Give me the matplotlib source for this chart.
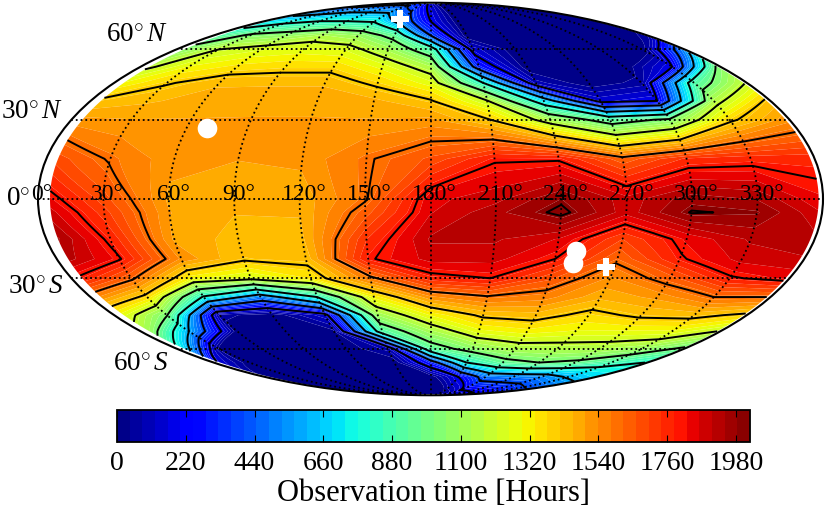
import numpy as np
import matplotlib
matplotlib.use("Agg")
import matplotlib.pyplot as plt

plt.rcParams['font.family'] = ['Liberation Serif', 'DejaVu Serif']
plt.rcParams['mathtext.fontset'] = 'custom'
plt.rcParams['mathtext.rm'] = 'Liberation Serif'
plt.rcParams['mathtext.it'] = 'Liberation Serif:italic'

lons = [5.5, 30, 60, 90, 120, 150, 180, 210, 240, 270, 300, 330, 358]
lats = [-88, -75, -67, -60, -52, -45, -37.5, -30, -22.5, -15, -5, 0, 15, 30, 37.5, 45, 52, 60, 67, 75, 88]

# hours per latitude row
m88 = [5, 5, 5, 5, 5, 5, 5, 5, 80, 120, 160, 200, 240]
m75 = [5, 5, 5, 5, 5, 5, 5, 200, 480, 500, 520, 620, 700]
m67 = [150, 5, 5, 5, 5, 5, 300, 800, 950, 1000, 970, 880, 800]
m60 = [700, 30, 5, 5, 5, 100, 930, 1060, 1140, 1150, 1140, 1090, 980]
m52 = [1100, 600, 5, 5, 30, 900, 1120, 1280, 1320, 1290, 1290, 1290, 1200]
m45 = [1270, 1010, 60, 5, 150, 1100, 1300, 1420, 1440, 1370, 1420, 1430, 1380]
m37 = [1530, 1370, 780, 500, 800, 1310, 1530, 1590, 1560, 1470, 1510, 1600, 1600]
m30 = [1780, 1620, 1310, 1240, 1340, 1580, 1770, 1800, 1670, 1530, 1640, 1790, 1830]
m22 = [1920, 1810, 1530, 1415, 1430, 1790, 1880, 1880, 1800, 1620, 1790, 1880, 1900]
m15 = [1950, 1780, 1490, 1440, 1450, 1740, 1910, 1910, 1860, 1700, 1830, 1910, 1920]
m05 = [1880, 1720, 1500, 1460, 1460, 1640, 1860, 1930, 2020, 1880, 2005, 1990, 1870]
p00 = [1830, 1680, 1490, 1470, 1470, 1590, 1850, 1890, 1985, 1880, 1970, 1940, 1830]
p15 = [1680, 1590, 1510, 1500, 1510, 1590, 1670, 1790, 1790, 1630, 1750, 1770, 1770]
p30 = [1510, 1500, 1500, 1500, 1500, 1500, 1510, 1400, 1130, 920, 1030, 1380, 1520]
p37 = [1420, 1450, 1480, 1490, 1490, 1470, 1410, 1210, 700, 150, 200, 1150, 1420]
p45 = [1300, 1390, 1450, 1450, 1450, 1380, 1270, 800, 100, 5, 60, 900, 1190]
p52 = [1180, 1300, 1350, 1370, 1370, 1280, 1140, 300, 5, 5, 5, 200, 1030]
p60 = [1050, 1200, 1250, 1270, 1250, 1120, 900, 150, 5, 5, 5, 5, 500]
p67 = [900, 1030, 1070, 1140, 1090, 950, 400, 5, 5, 5, 5, 5, 50]
p75 = [700, 750, 800, 800, 780, 500, 200, 5, 5, 5, 5, 5, 5]
p88 = [300, 300, 350, 350, 350, 300, 150, 5, 5, 5, 5, 5, 5]

# spots without data
blob_lon = [70, 249, 249]
blob_lat = [26.7, -19.5, -24]
plus_lon = [145, 265.6]
plus_lat = [76.5, -25.5]

cbar_ticks = [0, 220, 440, 660, 880, 1100, 1320, 1540, 1760, 1980]
line_levels = [200, 400, 600, 800, 1000, 1200, 1400, 1600, 1800, 2000]
lon_ticks = [0, 30, 60, 90, 120, 150, 180, 210, 240, 270, 300, 330]
lon_labels = ['0°', '30°', '60°', '90°', '120°', '150°', '180°', '210°', '240°', '270°', '300°', '330°']
lat_labels = [r'$60^{\circ}\,S$', r'$30^{\circ}\,S$', r'$0^{\circ}$', r'$30^{\circ}\,N$', r'$60^{\circ}\,N$']

hours = np.array([m88, m75, m67, m60, m52, m45, m37, m30, m22, m15, m05, p00,
                  p15, p30, p37, p45, p52, p60, p67, p75, p88])
x = np.radians(np.array(lons) - 180)
y = np.radians(lats)

fig = plt.figure(figsize=(8.3, 5.1), dpi=100)
ax = fig.add_axes([38/830, 1 - 397/510, 785/830, 394/510], projection='mollweide')

levels = np.linspace(0, 2025, 51)
cf = ax.contourf(x, y, hours, levels=levels, cmap='jet', antialiased=True)
ax.contour(x, y, hours, levels=line_levels, colors='k', linewidths=1.4)
ax.scatter(np.radians(np.array(blob_lon) - 180), np.radians(blob_lat), marker='o',
           s=200, color='white', linewidths=0, zorder=3)
ax.scatter(np.radians(np.array(plus_lon) - 180), np.radians(plus_lat), marker='P',
           s=170, color='white', linewidths=0, zorder=3)

ax.set_longitude_grid(30)
ax.set_latitude_grid(30)
ax.set_longitude_grid_ends(89)
ax.grid(True, color='k', linestyle=':', linewidth=1.3)
ax.set_xticklabels([])
ax.set_yticklabels(lat_labels, fontsize=19.5)
for lon, lab in zip(lon_ticks, lon_labels):
    ax.annotate(lab, (np.radians(lon - 180), 0), xytext=(3, 0), textcoords='offset points',
                ha='center', va='baseline', fontsize=17, annotation_clip=False)
for sp in ax.spines.values():
    sp.set_linewidth(1.5)

cax = fig.add_axes([117/830, 1 - 443/510, 633/830, 32/510])
cb = fig.colorbar(cf, cax=cax, orientation='horizontal', ticks=cbar_ticks)
cb.ax.tick_params(direction='in', length=5, width=0.8, top=True, bottom=True, labelsize=20, pad=6)
cb.outline.set_linewidth(1.3)
cb.set_label('Observation time [Hours]', fontsize=22, labelpad=2)

fig.savefig('out.png', dpi=100)
